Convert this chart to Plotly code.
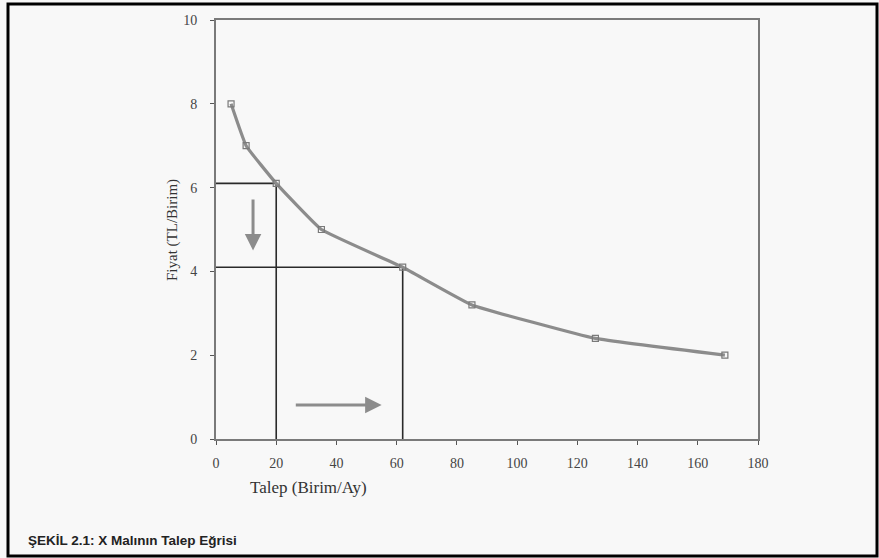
import plotly.graph_objects as go

# Data
talep = [5, 10, 20, 35, 62, 85, 126, 169]
fiyat = [8.0, 7.0, 6.1, 5.0, 4.1, 3.2, 2.4, 2.0]
x_ticks = [0, 20, 40, 60, 80, 100, 120, 140, 160, 180]
y_ticks = [0, 2, 4, 6, 8, 10]
guide_idx = [2, 4]  # points with projection guide lines

W, H = 879, 558
L, R, T, B = 216, 121, 20, 119
PW, PH = W - L - R, H - T - B


def px(xp):
    return (xp - L) / PW


def py(yp):
    return (H - B - yp) / PH


fig = go.Figure()

# guide lines (projections of the two highlighted points)
for i in guide_idx:
    gx, gy = talep[i], fiyat[i]
    fig.add_trace(go.Scatter(x=[0, gx, gx], y=[gy, gy, 0], mode="lines",
                             line=dict(color="#2a2a2a", width=1.6),
                             hoverinfo="skip", showlegend=False))

# demand curve
fig.add_trace(go.Scatter(x=talep, y=fiyat, mode="lines+markers",
                         line=dict(color="#8c8c8c", width=3.2, shape="spline", smoothing=0.3),
                         marker=dict(symbol="square-open", size=6, color="#7a7a7a",
                                     line=dict(width=1.2, color="#7a7a7a")),
                         showlegend=False))

fig.update_layout(
    width=W, height=H,
    margin=dict(l=L, r=R, t=T, b=B),
    paper_bgcolor="#f8f8f8", plot_bgcolor="#f8f8f8",
    font=dict(family="Liberation Serif", color="#444444"),
    xaxis=dict(range=[0, 180], tickvals=x_ticks, ticks="outside", ticklen=4,
               tickcolor="#555555", showgrid=False, zeroline=False,
               showline=True, linecolor="#7a7a7a", linewidth=2, mirror=True,
               ticklabelstandoff=6,
               tickfont=dict(family="Liberation Serif", size=14, color="#444444")),
    yaxis=dict(range=[0, 10], tickvals=y_ticks, ticks="outside", ticklen=4,
               tickcolor="#555555", showgrid=False, zeroline=False,
               showline=True, linecolor="#7a7a7a", linewidth=2, mirror=True,
               ticklabelstandoff=10,
               tickfont=dict(family="Liberation Serif", size=14, color="#444444")),
)

# arrows
fig.add_annotation(x=12.3, y=4.5, ax=12.3, ay=5.75, xref="x", yref="y", axref="x", ayref="y",
                   text="", showarrow=True, arrowhead=2, arrowsize=1.1, arrowwidth=3,
                   arrowcolor="#8c8c8c")
fig.add_annotation(x=55, y=0.81, ax=26, ay=0.81, xref="x", yref="y", axref="x", ayref="y",
                   text="", showarrow=True, arrowhead=2, arrowsize=1.1, arrowwidth=3,
                   arrowcolor="#8c8c8c")

# axis titles placed as in the reference
fig.add_annotation(x=px(308), y=py(487), xref="paper", yref="paper",
                   text="Talep (Birim/Ay)", showarrow=False, xanchor="center", yanchor="middle",
                   font=dict(family="Liberation Serif", size=17, color="#333333"))
fig.add_annotation(x=px(172), y=py(230), xref="paper", yref="paper", textangle=-90,
                   text="Fiyat (TL/Birim)", showarrow=False, xanchor="center", yanchor="middle",
                   font=dict(family="Liberation Serif", size=15, color="#333333"))

# caption
fig.add_annotation(x=px(26), y=py(540), xref="paper", yref="paper",
                   text="<b>ŞEKİL 2.1: X Malının Talep Eğrisi</b>", showarrow=False,
                   xanchor="left", yanchor="middle",
                   font=dict(family="Liberation Sans", size=13.5, color="#222222"))

# outer black frame
fig.add_shape(type="rect", xref="paper", yref="paper",
              x0=px(8), x1=px(877), y0=py(556), y1=py(4),
              line=dict(color="#000000", width=3), layer="below")

fig.write_html("out.html", config={"displayModeBar": False},
               post_script="document.body.style.margin='0';")
